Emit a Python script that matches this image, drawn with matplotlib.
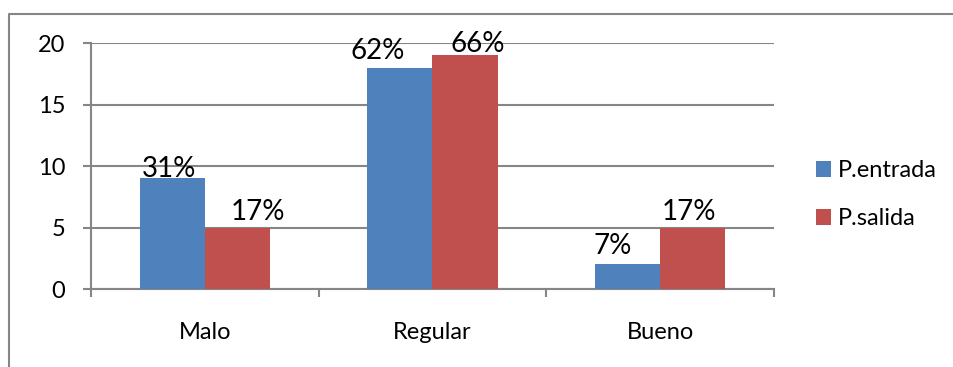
import matplotlib.pyplot as plt
from matplotlib.lines import Line2D
import numpy as np

plt.rcParams['font.family'] = ['Lato', 'DejaVu Sans']

categorias = ['Malo', 'Regular', 'Bueno']
entrada = [9, 18, 2]
salida = [5, 19, 5]
pct_entrada = ['31%', '62%', '7%']
pct_salida = ['17%', '66%', '17%']

# hand-placed label offsets (x shift, height above bar) in pixels
off_entrada = [(-3, 1), (-22, 9), (-15, 10)]
off_salida = [(21, 8), (13, 3), (-4, 8)]

azul = '#4F81BD'
rojo = '#C0504D'
gris = '#868686'

fig = plt.figure(figsize=(9.54, 3.67), dpi=100)
ax = fig.add_axes([0.0954, 0.2125, 0.7159, 0.6703])

# outer chart frame: only the left and top edges fall inside the image
top = 1 - 13.5 / 367
left = 9.5 / 954
fig.add_artist(Line2D([left, left, 1.05], [-0.05, top, top], transform=fig.transFigure,
                      color=gris, linewidth=1.5))

x = np.arange(len(categorias))
w = 2 / 7
b1 = ax.bar(x - w / 2, entrada, w, color=azul, label='P.entrada', zorder=3)
b2 = ax.bar(x + w / 2, salida, w, color=rojo, label='P.salida', zorder=3)

for rects, labels, offs in ((b1, pct_entrada, off_entrada), (b2, pct_salida, off_salida)):
    for r, t, (dx, dy) in zip(rects, labels, offs):
        ax.annotate(t, (r.get_x() + r.get_width() / 2, r.get_height()),
                    xytext=(dx * 0.72, dy * 0.72), textcoords='offset points',
                    ha='center', va='baseline', fontsize=20, zorder=4)

ax.set_xlim(-0.5, 2.5)
ax.set_ylim(0, 20)
ax.set_yticks([0, 5, 10, 15, 20])
ax.yaxis.grid(True, color=gris, linewidth=1.5, zorder=0)
ax.set_axisbelow(True)

for s in ['top', 'right']:
    ax.spines[s].set_visible(False)
for s in ['left', 'bottom']:
    ax.spines[s].set_color(gris)
    ax.spines[s].set_linewidth(1.5)

# category boundaries as x ticks, labels as minor ticks
ax.set_xticks([-0.5, 0.5, 1.5, 2.5])
ax.set_xticklabels([])
ax.set_xticks(x, minor=True)
ax.set_xticklabels(categorias, minor=True)
ax.tick_params(axis='x', which='major', length=5.5, width=1.5, color=gris, direction='out')
ax.tick_params(axis='x', which='minor', length=0, pad=24, labelsize=17)
ax.tick_params(axis='y', length=5.5, width=1.5, color=gris, direction='out', pad=13, labelsize=17)

ax.legend(loc='center left', bbox_to_anchor=(0.855, 0.469), bbox_transform=fig.transFigure,
          frameon=False, fontsize=17, handlelength=0.64, handleheight=0.64,
          handletextpad=0.3, labelspacing=1.15, borderaxespad=0, borderpad=0)

fig.savefig('out.png', dpi=100)
